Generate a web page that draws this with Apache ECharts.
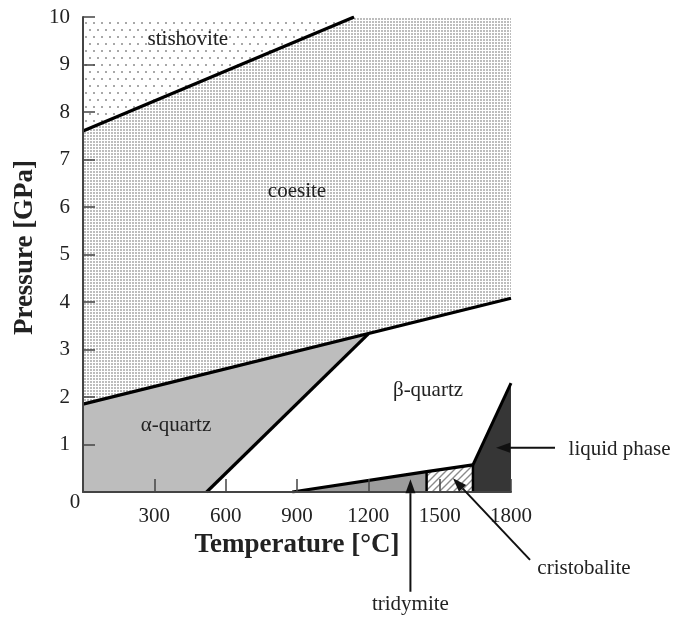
<!DOCTYPE html>
<html><head><meta charset="utf-8">
<script src="https://cdn.jsdelivr.net/npm/echarts@6/dist/echarts.min.js"></script>
<style>html,body{margin:0;padding:0;background:#fff}#c{width:673px;height:621px}</style>
</head><body><div id="c"></div>
<script>
// ---- data (Temperature °C, Pressure GPa) ----
const xTicks = [0, 300, 600, 900, 1200, 1500, 1800];
const yTicks = [0, 1, 2, 3, 4, 5, 6, 7, 8, 9, 10];

const stishoviteRegion = [[0, 7.6], [1140, 10], [0, 10]];
const coesiteRegion = [[0, 1.85], [0, 7.6], [1140, 10], [1800, 10], [1800, 4.08]];
const alphaQuartzRegion = [[0, 0], [0, 1.85], [1200, 3.33], [520, 0]];
const tridymiteRegion = [[880, 0], [1445, 0.43], [1445, 0]];
const cristobaliteRegion = [[1445, 0], [1445, 0.43], [1640, 0.57], [1640, 0]];
const liquidRegion = [[1640, 0], [1640, 0.57], [1800, 2.29], [1800, 0]];

const stishoviteBoundary = [[0, 7.6], [1140, 10]];
const coesiteBoundary = [[0, 1.85], [1800, 4.08]];
const alphaBetaBoundary = [[520, 0], [1200, 3.33]];
const tridymiteBoundary = [[880, 0], [1445, 0.43], [1640, 0.57]];
const meltingBoundary = [[1640, 0.57], [1800, 2.29]];
const tridCristDivider = [[1445, 0], [1445, 0.43]];
const cristLiquidDivider = [[1640, 0], [1640, 0.57]];

const regionNames = ['stishovite', 'coesite', 'α-quartz', 'β-quartz'];
const regionLabelPos = [[441, 9.52], [900, 6.32], [391, 1.41], [1451, 2.13]];

const noteText = ['liquid phase', 'tridymite', 'cristobalite'];
const notePos = [[2042, 0.905], [1377, -2.36], [2107, -1.6]];
const arrowFrom = [[1985, 0.93], [1377, -2.1], [1880, -1.43]];
const arrowTo = [[1737, 0.93], [1377, 0.27], [1556, 0.29]];
const originLabelPos = [-34, -0.23];

// ---- patterns ----
function makeCanvas(w, h, draw) {
  const c = document.createElement('canvas'); c.width = w; c.height = h;
  const g = c.getContext('2d'); g.fillStyle = '#fff'; g.fillRect(0, 0, w, h); draw(g); return c;
}
const denseDots = makeCanvas(3, 3, g => { g.fillStyle = '#bdbdbd'; g.fillRect(0, 0, 2, 2); });
const sparseDots = makeCanvas(8, 14, g => { g.fillStyle = '#a8a8a8'; g.fillRect(1, 1, 2, 2); g.fillRect(5, 8, 2, 2); });
const hatch = makeCanvas(7, 7, g => {
  g.strokeStyle = '#8a8a8a'; g.lineWidth = 1.4; g.beginPath();
  g.moveTo(-1, 8); g.lineTo(8, -1);
  g.moveTo(-2, 2); g.lineTo(2, -2);
  g.moveTo(5, 9); g.lineTo(9, 5);
  g.stroke();
});

const regions = [
  { pts: stishoviteRegion, fill: { image: sparseDots, repeat: 'repeat' } },
  { pts: coesiteRegion, fill: { image: denseDots, repeat: 'repeat' } },
  { pts: alphaQuartzRegion, fill: '#bdbdbd' },
  { pts: tridymiteRegion, fill: '#9c9c9c' },
  { pts: cristobaliteRegion, fill: { image: hatch, repeat: 'repeat' } },
  { pts: liquidRegion, fill: '#363636' }
];

const FONT = "'Liberation Serif','Times New Roman',serif";
const TXT = '#222';

function boundary(data, w) {
  return { type: 'line', data: data, symbol: 'none', z: 4, silent: true,
    lineStyle: { color: '#000', width: w }, animation: false };
}

const chart = echarts.init(document.getElementById('c'));
chart.setOption({
  animation: false,
  backgroundColor: '#fff',
  grid: { left: 83, top: 17, right: 162, bottom: 129 },
  xAxis: {
    type: 'value', min: 0, max: 1800, interval: 300, z: 6,
    name: 'Temperature [°C]', nameLocation: 'middle', nameGap: 40,
    nameTextStyle: { fontFamily: FONT, fontSize: 27, fontWeight: 'bold', color: TXT },
    axisLine: { show: true, lineStyle: { color: '#444', width: 2 } },
    axisTick: { show: true, inside: true, length: 13, lineStyle: { color: '#444', width: 1.5 } },
    splitLine: { show: false },
    axisLabel: { margin: 14, fontFamily: FONT, fontSize: 21, color: TXT,
      formatter: v => (v === 0 ? '' : String(v)) }
  },
  yAxis: {
    type: 'value', min: 0, max: 10, interval: 1, z: 6,
    name: 'Pressure [GPa]', nameLocation: 'middle', nameGap: 44, nameRotate: 90,
    nameTextStyle: { fontFamily: FONT, fontSize: 27, fontWeight: 'bold', color: TXT, padding: [0, 0, 0, 14] },
    axisLine: { show: true, lineStyle: { color: '#444', width: 2 } },
    axisTick: { show: true, inside: true, length: 12, lineStyle: { color: '#444', width: 1.5 } },
    splitLine: { show: false },
    axisLabel: { margin: 13, fontFamily: FONT, fontSize: 21, color: TXT,
      formatter: v => (v === 0 ? '' : String(v)) }
  },
  series: [
    {
      type: 'custom', z: 2, silent: true,
      data: regions.map((r, i) => [i]),
      renderItem: function (params, api) {
        const r = regions[params.dataIndex];
        return { type: 'polygon', shape: { points: r.pts.map(p => api.coord(p)) },
          style: { fill: r.fill, stroke: null } };
      }
    },
    boundary(stishoviteBoundary, 3.2),
    boundary(coesiteBoundary, 3.2),
    boundary(alphaBetaBoundary, 3.2),
    boundary(tridymiteBoundary, 3.2),
    boundary(meltingBoundary, 3),
    boundary(tridCristDivider, 2.5),
    boundary(cristLiquidDivider, 2.5),
    {
      type: 'custom', z: 7, silent: true, clip: false,
      data: regionNames.map((n, i) => [regionLabelPos[i][0], regionLabelPos[i][1]]),
      renderItem: function (params, api) {
        const p = api.coord(regionLabelPos[params.dataIndex]);
        return { type: 'text', x: p[0], y: p[1],
          style: { text: regionNames[params.dataIndex], fill: TXT, font: '21px ' + FONT,
            align: 'center', verticalAlign: 'middle' } };
      }
    },
    {
      type: 'custom', z: 7, silent: true, clip: false,
      data: noteText.map((n, i) => [notePos[i][0], notePos[i][1]]),
      renderItem: function (params, api) {
        const i = params.dataIndex;
        const a = api.coord(arrowFrom[i]), b = api.coord(arrowTo[i]);
        const t = api.coord(notePos[i]);
        const dx = b[0] - a[0], dy = b[1] - a[1], L = Math.hypot(dx, dy);
        const ux = dx / L, uy = dy / L, hl = 14, hw = 5;
        const base = [b[0] - ux * hl, b[1] - uy * hl];
        return { type: 'group', children: [
          { type: 'line', shape: { x1: a[0], y1: a[1], x2: base[0], y2: base[1] },
            style: { stroke: '#111', lineWidth: 2 } },
          { type: 'polygon', shape: { points: [b, [base[0] - uy * hw, base[1] + ux * hw], [base[0] + uy * hw, base[1] - ux * hw]] },
            style: { fill: '#111' } },
          { type: 'text', x: t[0], y: t[1],
            style: { text: noteText[i], fill: TXT, font: '21px ' + FONT,
              align: i === 0 ? 'left' : 'center', verticalAlign: 'middle' } }
        ] };
      }
    },
    {
      type: 'custom', z: 7, silent: true, clip: false,
      data: [originLabelPos],
      renderItem: function (params, api) {
        const p = api.coord(originLabelPos);
        return { type: 'text', x: p[0], y: p[1],
          style: { text: '0', fill: TXT, font: '21px ' + FONT, align: 'center', verticalAlign: 'middle' } };
      }
    }
  ]
});
</script>
</body></html>
